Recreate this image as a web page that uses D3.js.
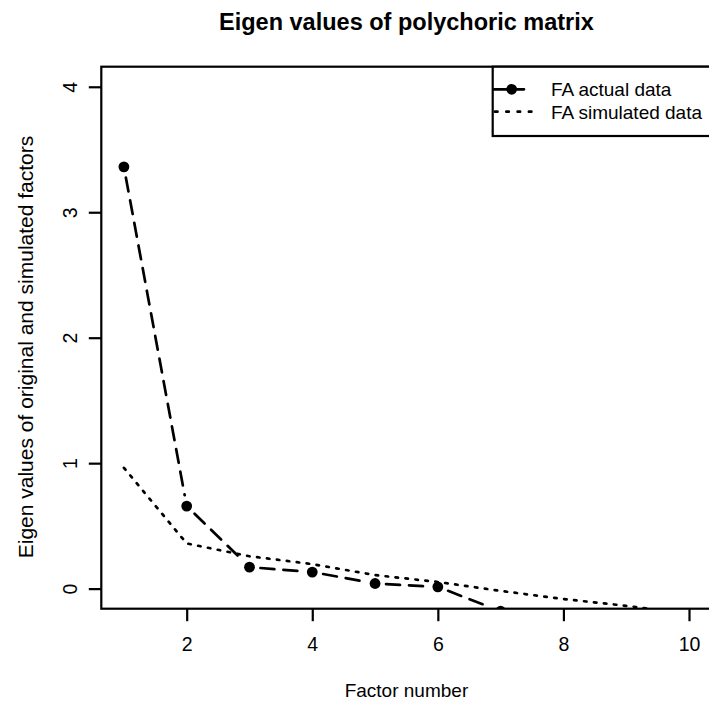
<!DOCTYPE html>
<html><head><meta charset="utf-8">
<script src="https://cdn.jsdelivr.net/npm/d3@7"></script>
<style>body{margin:0;background:#fff}</style>
</head><body>
<svg id="c" width="709" height="702"></svg>
<script>
const factors = [1, 2, 3, 4, 5, 6, 7, 8, 9, 10];
const actualValues = [3.362, 0.658, 0.171, 0.132, 0.041, 0.014, -0.18];
const simulatedValues = [0.963, 0.36, 0.258, 0.195, 0.108, 0.053, -0.018, -0.083, -0.137, -0.2];
const xTicks = [2, 4, 6, 8, 10];
const yTicks = [0, 1, 2, 3, 4];
const legendLabels = ["FA actual data", "FA simulated data"];
const titleText = "Eigen values of polychoric matrix";
const xLabel = "Factor number";
const yLabel = "Eigen values of original and simulated factors";

const FONT = "'Liberation Sans', Arial, sans-serif";
const L = 101.3, R = 711.6, T = 66.7, B = 608.7;
const LW = 2.7;
const DASHED = "14,9";
const DOTTED = "2.5,7.5";
const svg = d3.select("#c");
svg.append("rect").attr("width", 709).attr("height", 702).attr("fill", "#fff");

const x = d3.scaleLinear().domain([0.64, 10.36]).range([L, R]);
const y = d3.scaleLinear().domain([-0.16, 4.16]).range([B, T]);

svg.append("defs").append("clipPath").attr("id", "clip")
  .append("rect").attr("x", L).attr("y", T).attr("width", R - L).attr("height", B - T);

const plot = svg.append("g").attr("clip-path", "url(#clip)");

// simulated: dotted line
plot.append("path")
  .datum(simulatedValues.map((v, i) => [factors[i], v]))
  .attr("d", d3.line().x(d => x(d[0])).y(d => y(d[1])))
  .attr("fill", "none").attr("stroke", "#000").attr("stroke-width", LW)
  .attr("stroke-linecap", "round").attr("stroke-dasharray", DOTTED);

// actual: type "b" dashed segments with gaps, plus points
const gap = 11;
const pts = actualValues.map((v, i) => [x(factors[i]), y(v)]);
for (let i = 0; i < pts.length - 1; i++) {
  const [x1, y1] = pts[i], [x2, y2] = pts[i + 1];
  const dx = x2 - x1, dy = y2 - y1, len = Math.hypot(dx, dy);
  if (len <= 2 * gap) continue;
  const ux = dx / len, uy = dy / len;
  plot.append("line")
    .attr("x1", x1 + ux * gap).attr("y1", y1 + uy * gap)
    .attr("x2", x2 - ux * gap).attr("y2", y2 - uy * gap)
    .attr("stroke", "#000").attr("stroke-width", LW)
    .attr("stroke-linecap", "round").attr("stroke-dasharray", DASHED);
}
plot.selectAll("circle.pt").data(actualValues).join("circle")
  .attr("class", "pt")
  .attr("cx", (d, i) => x(factors[i])).attr("cy", d => y(d))
  .attr("r", 5.4).attr("fill", "#000");

// box
svg.append("rect").attr("x", L).attr("y", T).attr("width", R - L).attr("height", B - T)
  .attr("fill", "none").attr("stroke", "#000").attr("stroke-width", 2.2);

// x axis
const gx = svg.append("g").attr("transform", `translate(0,${B})`)
  .call(d3.axisBottom(x).tickValues(xTicks).tickSize(12.5).tickSizeOuter(0).tickFormat(d3.format("d")));
gx.select(".domain").remove();
gx.selectAll(".tick line").attr("stroke", "#000").attr("stroke-width", 2.2);
gx.selectAll(".tick text").attr("y", 42).attr("dy", 0)
  .attr("font-family", FONT).attr("font-size", 19.5).attr("fill", "#000");

// y axis
const gy = svg.append("g").attr("transform", `translate(${L},0)`)
  .call(d3.axisLeft(y).tickValues(yTicks).tickSize(12.5).tickSizeOuter(0).tickFormat(d3.format("d")));
gy.select(".domain").remove();
gy.selectAll(".tick line").attr("stroke", "#000").attr("stroke-width", 2.2);
gy.selectAll(".tick text").attr("x", 0).attr("dy", 0)
  .attr("transform", "translate(-24,0) rotate(-90)")
  .attr("text-anchor", "middle")
  .attr("font-family", FONT).attr("font-size", 19.5).attr("fill", "#000");

// labels
svg.append("text").attr("x", (L + R) / 2).attr("y", 696.7).attr("text-anchor", "middle")
  .attr("font-family", FONT).attr("font-size", 19).text(xLabel);
svg.append("text").attr("transform", `translate(33,347) rotate(-90)`)
  .attr("text-anchor", "middle").attr("font-family", FONT).attr("font-size", 21).text(yLabel);
svg.append("text").attr("x", (L + R) / 2).attr("y", 29.5).attr("text-anchor", "middle")
  .attr("font-family", FONT).attr("font-size", 23.5).attr("font-weight", "bold").text(titleText);

// legend
const lg = svg.append("g");
lg.append("rect").attr("x", 492.7).attr("y", T).attr("width", R - 492.7).attr("height", 136 - T)
  .attr("fill", "#fff").attr("stroke", "#000").attr("stroke-width", 2.2);
const rowY = [89.3, 111.7];
lg.append("line").attr("x1", 494).attr("x2", 524).attr("y1", rowY[0]).attr("y2", rowY[0])
  .attr("stroke", "#000").attr("stroke-width", LW).attr("stroke-linecap", "round")
  .attr("stroke-dasharray", DASHED);
lg.append("circle").attr("cx", 511.7).attr("cy", rowY[0]).attr("r", 5.4).attr("fill", "#000");
lg.append("line").attr("x1", 495).attr("x2", 533).attr("y1", rowY[1]).attr("y2", rowY[1])
  .attr("stroke", "#000").attr("stroke-width", LW).attr("stroke-linecap", "round")
  .attr("stroke-dasharray", "2.5,8.8");
lg.selectAll("text.lt").data(legendLabels).join("text").attr("class", "lt")
  .attr("x", 551).attr("y", (d, i) => rowY[i]).attr("dy", "0.37em")
  .attr("font-family", FONT).attr("font-size", 19).text(d => d);
</script>
</body></html>
